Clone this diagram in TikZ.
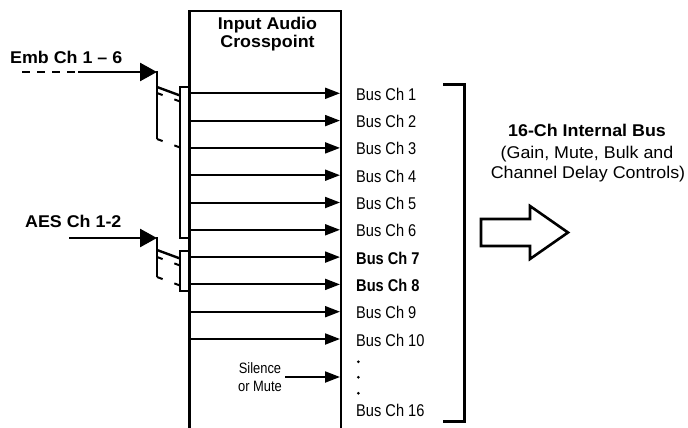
\documentclass[tikz,border=0pt]{standalone}
\usepackage{fontspec}
\setmainfont{Liberation Sans}
\newfontfamily\hvw[FakeStretch=1.05]{Liberation Sans}
\newfontfamily\hvn[FakeStretch=0.86]{Liberation Sans}
\usetikzlibrary{arrows.meta}
\begin{document}
\begin{tikzpicture}[x=1pt,y=-1pt,
  boxline/.style={line width=2.6pt},
  busarrow/.style={line width=2pt,-{Triangle[length=15pt,width=11pt]}},
  inarrow/.style={line width=2.6pt,-{Triangle[length=17pt,width=18pt]}},
  swline/.style={line width=2.4pt},
  swdash/.style={line width=2pt,dash pattern=on 6pt off 12.5pt on 6pt},
  buslbl/.style={inner sep=0pt,anchor=base west,font=\hvn\fontsize{17}{20}\selectfont},
  busbold/.style={buslbl,font=\hvn\bfseries\fontsize{17}{20}\selectfont},
  dotmark/.style={circle,fill,inner sep=0pt,minimum size=3pt},
  boldlbl/.style={inner sep=0pt,font=\hvw\bfseries\fontsize{17}{20}\selectfont},
  reglbl/.style={inner sep=0pt,font=\hvw\fontsize{17}{20}\selectfont},
]
\useasboundingbox (0,0) rectangle (688,428);
% selector rectangles
\draw[line width=2pt] (179.5,87) rectangle (189.5,238);
\draw[line width=2pt] (179.5,251) rectangle (189.5,291);
% crosspoint box
\draw[boxline] (189.5,428) -- (189.5,11) -- (341,11) -- (341,428);
\node[boldlbl,anchor=base] (title1) at (267.5,29.3) {Input Audio};
\node[boldlbl,anchor=base] (title2) at (267.5,47.3) {Crosspoint};
% bus arrows
\foreach \i/\y in {1/93.3,2/120.6,3/147.9,4/175.2,5/202.5,6/229.8,7/257.1,8/284.4,9/311.7,10/339}{
  \coordinate (in\i) at (189.5,\y);
  \coordinate (out\i) at (340,\y);
  \draw[busarrow] (in\i) -- (out\i);
}
\node[buslbl] (bus1) at (356,100.3) {Bus Ch 1};
\node[buslbl] (bus2) at (356,127.6) {Bus Ch 2};
\node[buslbl] (bus3) at (356,154.9) {Bus Ch 3};
\node[buslbl] (bus4) at (356,182.2) {Bus Ch 4};
\node[buslbl] (bus5) at (356,209.5) {Bus Ch 5};
\node[buslbl] (bus6) at (356,236.8) {Bus Ch 6};
\node[busbold] (bus7) at (356,264.1) {Bus Ch 7};
\node[busbold] (bus8) at (356,291.4) {Bus Ch 8};
\node[buslbl] (bus9) at (356,318.7) {Bus Ch 9};
\node[buslbl] (bus10) at (356,346) {Bus Ch 10};
\node[dotmark] (dot1) at (358.3,361.8) {};
\node[dotmark] (dot2) at (358.3,377.3) {};
\node[dotmark] (dot3) at (358.3,393.3) {};
\node[buslbl] (bus16) at (356,416) {Bus Ch 16};
% silence
\node[inner sep=0pt,align=center,font=\hvn\fontsize{15}{17.5}\selectfont] (sil) at (260,377) {Silence\\or Mute};
\coordinate (silS) at (285,377);
\coordinate (silE) at (340,377);
\draw[busarrow] (silS) -- (silE);
% Emb input
\node[boldlbl,anchor=base west] (emb) at (10,63.5) {Emb Ch 1 – 6};
\coordinate (embD) at (22,72);
\coordinate (embS) at (78,72);
\coordinate (embT) at (157,72);
\draw[line width=2.6pt,dash pattern=on 8pt off 7pt] (embD) -- (embS);
\draw[inarrow] (embS) -- (embT);
\draw[swline] (157,71) -- (157,139);
\draw[swline] (157,87) -- (180,95.5);
\draw[swdash] (157,93) -- (180,101.5);
\draw[swdash] (157,139) -- (180,147.5);
% AES input
\node[boldlbl,anchor=base west] (aes) at (25,227) {AES Ch 1-2};
\coordinate (aesS) at (69,238);
\coordinate (aesT) at (157,238);
\draw[inarrow] (aesS) -- (aesT);
\draw[swline] (157,237) -- (157,277);
\draw[swline] (157,250) -- (180,258.5);
\draw[swdash] (157,257) -- (180,265.5);
\draw[swdash] (157,277) -- (180,285.5);
% bracket
\draw[line width=3pt] (443,84) -- (464,84) -- (464,421) -- (443,421);
% big hollow arrow
\draw[line width=2.6pt] (481,219) -- (530,219) -- (530,206) -- (568,232.5) -- (530,259) -- (530,246) -- (481,246) -- cycle;
% bus description
\node[boldlbl,anchor=base] (bustitle) at (587,136) {16-Ch Internal Bus};
\node[reglbl,anchor=base] (busdesc1) at (587,158) {(Gain, Mute, Bulk and};
\node[reglbl,anchor=base] (busdesc2) at (588,178.5) {Channel Delay Controls)};
\end{tikzpicture}
\end{document}
